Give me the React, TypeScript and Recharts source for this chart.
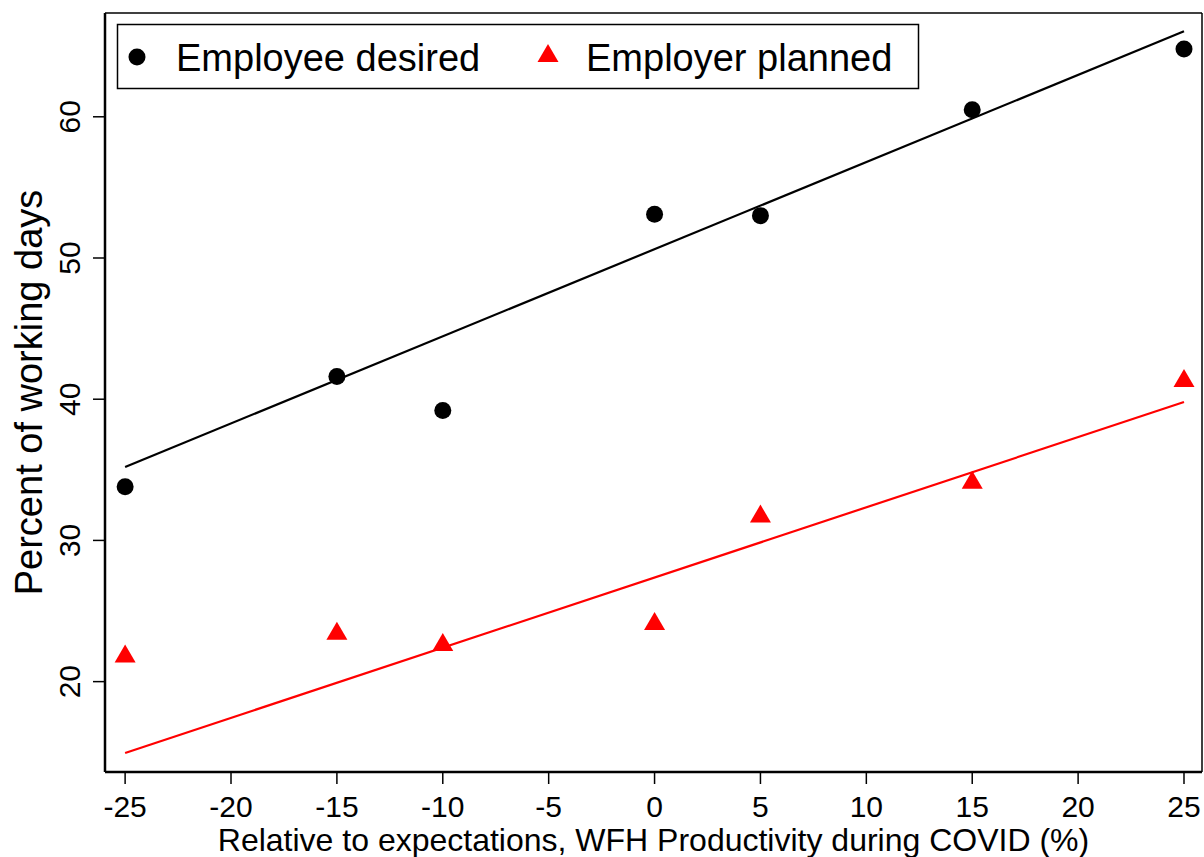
import React from 'react';
import { ComposedChart, Scatter, Line, XAxis, YAxis, Legend, ReferenceLine } from 'recharts';

const W = 1204;
const H = 857;
const FONT = '"Liberation Sans", Arial, Helvetica, sans-serif';

// productivity bins (x) and shares of working days from home
const productivity = [-25, -15, -10, 0, 5, 15, 25];
const employeeDesired = [33.8, 41.6, 39.2, 53.1, 53.0, 60.5, 64.8];
const employerPlanned = [22.0, 23.6, 22.8, 24.3, 31.9, 34.3, 41.5];

// linear fit end points
const fitX = [-25, 25];
const employeeFit = [35.2, 66.05];
const employerFit = [14.95, 39.8];

const xTicks = [-25, -20, -15, -10, -5, 0, 5, 10, 15, 20, 25];
const yTicks = [20, 30, 40, 50, 60];
const xDomain = [-25.95, 25.85];
const yDomain = [13.6, 67.35];

const employeeData = productivity.map((x, i) => ({ x, y: employeeDesired[i] }));
const employerData = productivity.map((x, i) => ({ x, y: employerPlanned[i] }));
const employeeFitData = fitX.map((x, i) => ({ x, y: employeeFit[i] }));
const employerFitData = fitX.map((x, i) => ({ x, y: employerFit[i] }));

const triPoints = (cx: number, cy: number) =>
  `${cx},${cy - 9} ${cx + 10.5},${cy + 9} ${cx - 10.5},${cy + 9}`;

const DotShape = (p: any) => <circle cx={p.cx} cy={p.cy} r={8.5} fill="#000" />;
const TriShape = (p: any) => <polygon points={triPoints(p.cx, p.cy)} fill="#ff0000" />;

const XTick = (p: any) => (
  <text x={p.x} y={p.y + 33} textAnchor="middle" fontSize={30} fontFamily={FONT} fill="#000">
    {p.payload.value}
  </text>
);

const YTick = (p: any) => (
  <text
    x={p.x - 13}
    y={p.y}
    transform={`rotate(-90, ${p.x - 13}, ${p.y})`}
    textAnchor="middle"
    fontSize={30}
    fontFamily={FONT}
    fill="#000"
  >
    {p.payload.value}
  </text>
);

const LegendBox = () => (
  <svg width={W} height={100} style={{ display: 'block' }}>
    <rect x={117.5} y={24.5} width={801} height={64} fill="#fff" stroke="#000" strokeWidth={1.5} />
    <circle cx={137} cy={57} r={8.5} fill="#000" />
    <text x={176} y={71} fontSize={38} fontFamily={FONT} fill="#000">Employee desired</text>
    <polygon points={triPoints(548, 53)} fill="#ff0000" />
    <text x={586} y={71} fontSize={38} fontFamily={FONT} fill="#000">Employer planned</text>
  </svg>
);

export default function App() {
  return (
    <div style={{ position: 'absolute', left: 0, top: 0, width: W, height: H, background: '#fff' }}>
      <ComposedChart width={W} height={H} margin={{ top: 13, right: 2, bottom: 0, left: 0 }}>
        <XAxis
          type="number"
          dataKey="x"
          domain={xDomain}
          ticks={xTicks}
          allowDataOverflow
          height={85}
          tickSize={12}
          tickMargin={0}
          tick={<XTick />}
          axisLine={{ stroke: '#000', strokeWidth: 2.5 }}
          tickLine={{ stroke: '#000', strokeWidth: 1.5 }}
          label={{
            content: (props: any) => {
              const vb = props.viewBox;
              return (
                <text x={vb.x + vb.width / 2} y={851} textAnchor="middle" fontSize={32} fontFamily={FONT} fill="#000">
                  Relative to expectations, WFH Productivity during COVID (%)
                </text>
              );
            },
          }}
        />
        <YAxis
          type="number"
          dataKey="y"
          domain={yDomain}
          ticks={yTicks}
          allowDataOverflow
          width={105}
          tickSize={12}
          tickMargin={0}
          tick={<YTick />}
          axisLine={{ stroke: '#000', strokeWidth: 2.5 }}
          tickLine={{ stroke: '#000', strokeWidth: 1.5 }}
          label={{
            content: (props: any) => {
              const vb = props.viewBox;
              const cy = vb.y + vb.height / 2;
              return (
                <text x={42} y={cy} transform={`rotate(-90, 42, ${cy})`} textAnchor="middle" fontSize={38} fontFamily={FONT} fill="#000">
                  Percent of working days
                </text>
              );
            },
          }}
        />
        <ReferenceLine y={yDomain[1]} stroke="#000" strokeWidth={1.5} />
        <ReferenceLine x={xDomain[1]} stroke="#000" strokeWidth={1.5} />
        <Line data={employeeFitData} dataKey="y" stroke="#000" strokeWidth={2.2} dot={false} isAnimationActive={false} legendType="none" />
        <Line data={employerFitData} dataKey="y" stroke="#ff0000" strokeWidth={2.2} dot={false} isAnimationActive={false} legendType="none" />
        <Scatter name="Employee desired" data={employeeData} fill="#000" shape={DotShape} isAnimationActive={false} />
        <Scatter name="Employer planned" data={employerData} fill="#ff0000" shape={TriShape} isAnimationActive={false} />
        <Legend
          layout="horizontal"
          verticalAlign="middle"
          align="center"
          content={() => <LegendBox />}
          wrapperStyle={{ top: 0, left: 0, width: W, height: 100 }}
        />
      </ComposedChart>
    </div>
  );
}
